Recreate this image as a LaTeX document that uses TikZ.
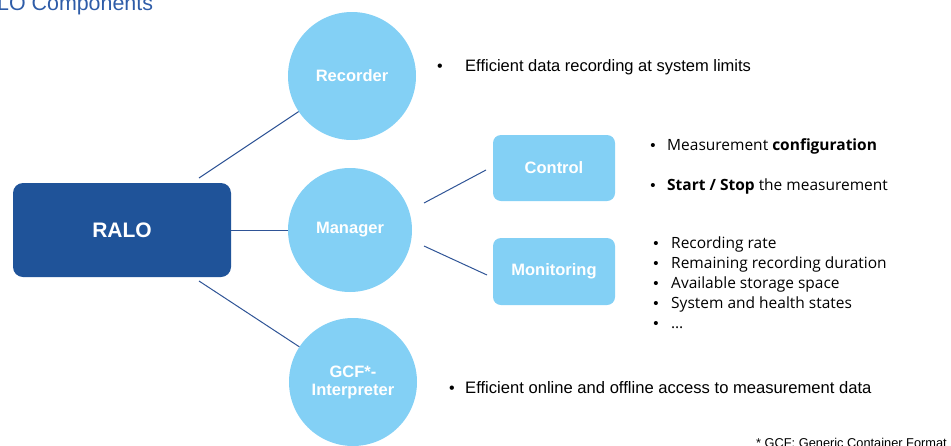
\documentclass[tikz,border=0pt]{standalone}
\usepackage{fontspec}
\setmainfont{Liberation Sans}
\newfontfamily\listfont{Open Sans}
\definecolor{lightblue}{HTML}{83D0F5}
\definecolor{darkblue}{HTML}{1F5399}
\definecolor{linkblue}{HTML}{2F5496}
\definecolor{titleblue}{HTML}{2E5CA8}
\begin{document}
\begin{tikzpicture}[x=1pt,y=-1pt,
  circ/.style={circle, fill=lightblue, minimum size=128pt, inner sep=0pt, text=white, font=\fontsize{16.5}{18}\selectfont\bfseries, align=center},
  subbox/.style={rounded corners=8pt, fill=lightblue, minimum width=122pt, minimum height=66pt, inner sep=0pt, text=white, font=\fontsize{16.5}{18}\selectfont\bfseries},
  link/.style={draw=linkblue, line width=1pt},
  txt/.style={anchor=base west, inner sep=0pt, text=black},
  listtxt/.style={txt, font=\listfont\fontsize{15.5}{18}\selectfont},
  bul/.style={anchor=base, inner sep=0pt, text=black, font=\fontsize{15}{18}\selectfont}]
\useasboundingbox (0,0) rectangle (951,445);
% title
\node[anchor=base west, inner sep=0pt, text=titleblue, font=\fontsize{21.4}{24}\selectfont] (title) at (-3,10) {LO Components};
% main box
\node[rounded corners=10pt, fill=darkblue, minimum width=218pt, minimum height=94pt, inner sep=0pt, text=white, font=\fontsize{21}{24}\selectfont\bfseries] (ralo) at (122,230) {RALO};
% circles
\node[circ] (rec) at (352,76) {Recorder};
\node[circ, minimum size=124pt] (man) at (350,230) {\raisebox{-2pt}{Manager}};
\node[circ] (gcf) at (353,382) {GCF*-\\Interpreter};
% sub boxes
\node[subbox] (ctrl) at (554,168) {Control};
\node[subbox, minimum height=67pt] (mon) at (554,271.5) {Monitoring};
% connectors
\coordinate (r1) at (199,178);
\coordinate (g1) at (199,281);
\coordinate (m1) at (424,203);
\coordinate (m2) at (424,246);
\coordinate (c1) at (486,170);
\coordinate (c2) at (487,275);
\draw[link] (r1) -- (rec);
\draw[link] (ralo.east) -- (man.west);
\draw[link] (g1) -- (gcf);
\draw[link] (m1) -- (c1);
\draw[link] (m2) -- (c2);
% recorder text
\node[bul, font=\fontsize{16}{18}\selectfont] (b1) at (440,71) {•};
\node[txt, font=\fontsize{16.5}{18}\selectfont] (t1) at (465,71) {Efficient data recording at system limits};
% control texts
\node[bul] (b2) at (653,150) {•};
\node[listtxt] (t2) at (667,150) {Measurement \textbf{configuration}};
\node[bul] (b3) at (653,190) {•};
\node[listtxt] (t3) at (667,190) {\textbf{Start / Stop} the measurement};
% monitoring texts
\node[bul] (b4) at (656,248) {•};
\node[listtxt] (t4) at (671,248) {Recording rate};
\node[bul] (b5) at (656,268) {•};
\node[listtxt] (t5) at (671,268) {Remaining recording duration};
\node[bul] (b6) at (656,288) {•};
\node[listtxt] (t6) at (671,288) {Available storage space};
\node[bul] (b7) at (656,308) {•};
\node[listtxt] (t7) at (671,308) {System and health states};
\node[bul] (b8) at (656,328) {•};
\node[listtxt] (t8) at (671,328) {…};
% gcf text
\node[bul, font=\fontsize{16}{18}\selectfont] (b9) at (452,393) {•};
\node[txt, font=\fontsize{16.6}{18}\selectfont] (t9) at (465,393) {Efficient online and offline access to measurement data};
% footnote
\node[anchor=base east, inner sep=0pt, font=\fontsize{12.8}{14}\selectfont] (fn) at (947,447) {* GCF: Generic Container Format};
\end{tikzpicture}
\end{document}
